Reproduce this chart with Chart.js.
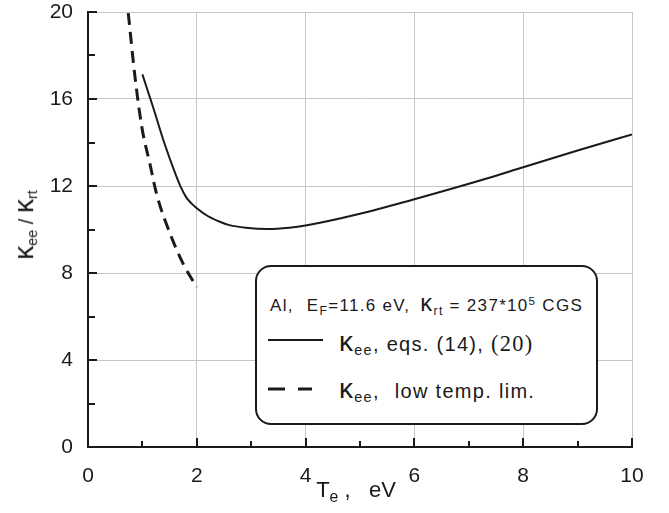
<!DOCTYPE html>
<html>
<head>
<meta charset="utf-8">
<script src="https://cdn.jsdelivr.net/npm/chart.js@4.4.1/dist/chart.umd.min.js"></script>
<style>
  body { margin: 0; background: #fff; }
  #wrap { position: relative; width: 669px; height: 513px; }
  .txt { position: absolute; font-family: "Liberation Sans", Arial, sans-serif; color: #1a1a1a; white-space: nowrap; line-height: 1; }
  .txt sub { font-size: 0.72em; vertical-align: -0.3em; }
  .txt sup { font-size: 0.68em; vertical-align: 0.55em; }
  .k { font-size: 1.4em; }
  .gap { display: inline-block; }
  #ytitle { left: 25px; top: 225px; font-size: 20px; transform: translate(-50%, -50%) rotate(-90deg); }
  #xtitle { left: 356px; top: 492px; font-size: 22px; transform: translate(-50%, -50%); }
  #legend { position: absolute; left: 255px; top: 265px; width: 339px; height: 156px; border: 2px solid #1a1a1a; border-radius: 16px; background: #fff; }
  #legend svg { position: absolute; left: 0; top: 0; }
</style>
</head>
<body>
<div id="wrap">
  <canvas id="grafik" width="669" height="513"></canvas>
  <div class="txt" id="ytitle"><span class="k">κ</span><sub>ee</sub> / <span class="k">κ</span><sub>rt</sub></div>
  <div class="txt" id="xtitle">T<sub>e</sub> ,&nbsp;&nbsp; eV</div>
  <div id="legend">
    <svg width="339" height="156">
      <line x1="11" y1="73" x2="66" y2="73" stroke="#1a1a1a" stroke-width="1.8"/>
      <line x1="11" y1="122" x2="55" y2="122" stroke="#1a1a1a" stroke-width="3" stroke-dasharray="17,13"/>
    </svg>
    <div class="txt" style="left:13px; top:24px; font-size:17px; letter-spacing:1.3px;">Al,<span class="gap" style="width:13px"></span>E<sub>F</sub>=11.6 eV,<span class="gap" style="width:10px"></span><span class="k">κ</span><sub>rt</sub> = 237*10<sup>5</sup> CGS</div>
    <div class="txt" style="left:82px; top:61px; font-size:20px; letter-spacing:1.3px;"><span class="k">κ</span><sub>ee</sub>, eqs. (14), <span style="font-family:'Liberation Serif',serif; font-size:1.12em">(20)</span></div>
    <div class="txt" style="left:82px; top:108px; font-size:20px; letter-spacing:1.3px;"><span class="k">κ</span><sub>ee</sub>,<span class="gap" style="width:15px"></span>low temp. lim.</div>
  </div>
</div>
<script>
// solid curve, eqs. (14), (20)
const solidT = [1.0, 1.2, 1.4, 1.6, 1.7, 1.8, 1.9, 2.0, 2.2, 2.4, 2.6, 2.9, 3.3, 3.7, 4, 5, 6, 7, 8, 9, 10];
const solidK = [17.13, 15.6, 14.0, 12.6, 11.98, 11.5, 11.2, 10.98, 10.62, 10.38, 10.2, 10.08, 10.02, 10.08, 10.18, 10.72, 11.39, 12.1, 12.86, 13.63, 14.37];

// dashed curve, low temperature limit
const dashT = [0.74, 0.86, 0.99, 1.14, 1.26, 1.51, 1.75, 2.0];
const dashK = [19.95, 17.1, 14.7, 13.0, 11.64, 9.8, 8.42, 7.35];

const xTicks = [0, 2, 4, 6, 8, 10];
const yTicks = [0, 4, 8, 12, 16, 20];

const ink = '#1a1a1a';

// inward ticks on left / bottom axes, minor ones every 1 (x) and 2 (y)
const inwardTicks = {
    id: 'inwardTicks',
    afterDatasetsDraw(chart) {
        const { ctx, scales: { x, y }, chartArea: a } = chart;
        ctx.save();
        ctx.strokeStyle = ink;
        ctx.lineWidth = 2;
        for (let v = 0; v <= 10; v++) {
            const px = Math.round(x.getPixelForValue(v));
            const len = xTicks.includes(v) ? 9 : 6;
            ctx.beginPath(); ctx.moveTo(px, a.bottom); ctx.lineTo(px, a.bottom - len); ctx.stroke();
        }
        for (let v = 0; v <= 20; v += 2) {
            const py = Math.round(y.getPixelForValue(v));
            const len = yTicks.includes(v) ? 9 : 7;
            ctx.beginPath(); ctx.moveTo(a.left, py); ctx.lineTo(a.left + len, py); ctx.stroke();
        }
        ctx.restore();
    }
};

const tickFont = { family: '"Liberation Sans", Arial, sans-serif', size: 21 };

new Chart(document.getElementById('grafik'), {
    type: 'scatter',
    data: {
        datasets: [{
            label: 'eqs. (14), (20)',
            data: solidT.map((t, i) => ({ x: t, y: solidK[i] })),
            showLine: true,
            borderColor: ink,
            borderWidth: 2,
            pointRadius: 0,
            cubicInterpolationMode: 'monotone'
        }, {
            label: 'low temp. lim.',
            data: dashT.map((t, i) => ({ x: t, y: dashK[i] })),
            showLine: true,
            borderColor: ink,
            borderWidth: 3,
            borderDash: [12, 7],
            pointRadius: 0,
            cubicInterpolationMode: 'monotone'
        }]
    },
    options: {
        responsive: false,
        animation: false,
        layout: { padding: { top: 12, right: 37, left: 0, bottom: 0 } },
        plugins: { legend: { display: false }, tooltip: { enabled: false } },
        scales: {
            x: {
                type: 'linear', min: 0, max: 10,
                afterBuildTicks: s => { s.ticks = xTicks.map(v => ({ value: v })); },
                afterFit: s => { s.height = 66; s.paddingLeft = 0; s.paddingRight = 0; },
                ticks: { font: tickFont, color: ink, padding: 17, maxRotation: 0 },
                grid: { color: '#c6c6c6', lineWidth: 1, drawTicks: false },
                border: { color: ink, width: 2 }
            },
            y: {
                min: 0, max: 20,
                afterBuildTicks: s => { s.ticks = yTicks.map(v => ({ value: v })); },
                afterFit: s => { s.width = 88; s.paddingTop = 0; s.paddingBottom = 0; },
                ticks: { font: tickFont, color: ink, padding: 15 },
                grid: { color: '#c6c6c6', lineWidth: 1, drawTicks: false },
                border: { color: ink, width: 2 }
            }
        }
    },
    plugins: [inwardTicks]
});
</script>
</body>
</html>
